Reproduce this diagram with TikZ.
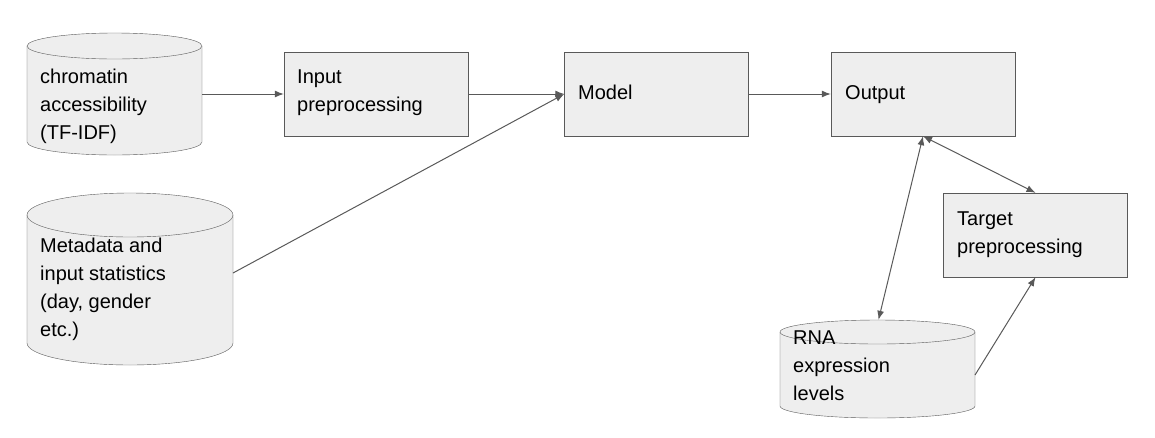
\documentclass[tikz,border=0pt]{standalone}
\usepackage{fontspec}
\setmainfont{Liberation Sans}
\usetikzlibrary{arrows.meta}
\definecolor{boxfill}{HTML}{EEEEEE}
\definecolor{edge}{HTML}{595959}
\tikzset{
  box/.style={draw=edge,fill=boxfill,minimum width=184pt,minimum height=84pt,inner sep=0pt},
  lbl/.style={anchor=north west,align=left,font=\fontsize{20pt}{28pt}\selectfont,inner sep=0pt},
  link/.style={draw=edge,line width=1pt,-{Latex[length=9pt,width=7pt]}},
  both/.style={link,{Latex[length=9pt,width=7pt]}-{Latex[length=9pt,width=7pt]}}
}
% cylinder: name, left, top, right, bottom, ellipse radius
\newcommand\drum[6]{
  \fill[boxfill] (#2,#3+#6) arc[start angle=180,end angle=0,x radius={(#4-#2)/2},y radius=#6]
    -- (#4,#5-#6) arc[start angle=0,end angle=180,x radius={(#4-#2)/2},y radius=#6] -- cycle;
  \draw[edge,fill=boxfill] ({(#2+#4)/2},#3+#6) ellipse[x radius={(#4-#2)/2},y radius=#6];
  \draw[edge] (#2,#3+#6) -- (#2,#5-#6) arc[start angle=180,end angle=0,x radius={(#4-#2)/2},y radius=#6] -- (#4,#3+#6);
  \node[minimum width=#4-#2,minimum height=#5-#3,inner sep=0pt] (#1) at ({(#2+#4)/2},{(#3+#5)/2}) {};
}
\begin{document}
\begin{tikzpicture}[x=1pt,y=-1pt]
  \useasboundingbox (0,0) rectangle (1155,437);
  % stores
  \drum{chrom}{27}{33}{202}{155}{13}
  \drum{meta}{27}{193}{233}{365}{22}
  \drum{rna}{780}{320}{975}{418}{12}
  \node[lbl] at (40,69) {chromatin\\accessibility\\(TF-IDF)};
  \node[lbl] at (40,238) {Metadata and\\input statistics\\(day, gender\\etc.)};
  \node[lbl] at (793,331) {RNA\\expression\\levels};
  % boxes
  \node[box] (pre) at (376,94) {};
  \node[box] (model) at (656.5,94) {};
  \node[box] (out) at (923,94) {};
  \node[box] (tgt) at (1035.5,235) {};
  \node[lbl] at (297,70) {Input\\preprocessing};
  \node[lbl] at (578,85) {Model};
  \node[lbl] at (845,85) {Output};
  \node[lbl] at (957,212) {Target\\preprocessing};
  % connectors
  \coordinate (metaout) at (233,273);
  \coordinate (rnaout) at (975,375);
  \draw[link] (chrom.east) -- (pre.west);
  \draw[link] (pre.east) -- (model.west);
  \draw[link] (metaout) -- (model.west);
  \draw[link] (model.east) -- (out.west);
  \draw[both] (out.south) -- (tgt.north);
  \draw[both] (out.south) -- ([xshift=1pt]rna.north);
  \draw[link] (rnaout) -- (tgt.south);
\end{tikzpicture}
\end{document}
